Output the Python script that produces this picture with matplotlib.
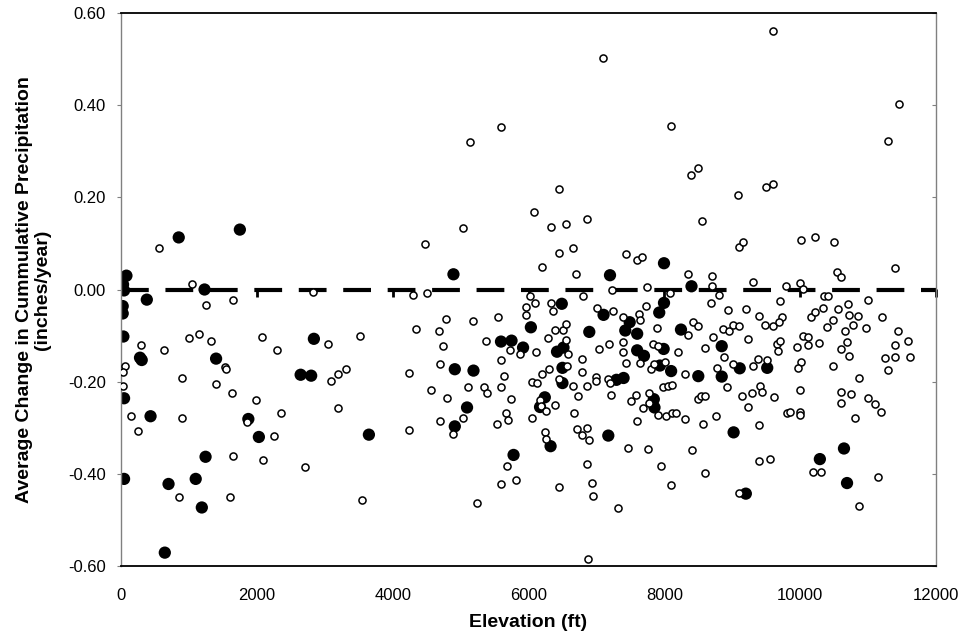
import matplotlib
matplotlib.use("Agg")
import matplotlib.pyplot as plt
from matplotlib.ticker import FuncFormatter

plt.rcParams['font.family'] = ['Liberation Sans', 'DejaVu Sans']
plt.rcParams['axes.unicode_minus'] = False
plt.rcParams['lines.scale_dashes'] = False

# open circles: elevation (ft) and average change (inches/year)
elev_open = [
    555, 1040, 2830, 1250, 1655, 300, 635, 995, 1150, 1320,
    55, 35, 25, 900, 1405, 1535, 1545, 1635, 145, 900,
    250, 2075, 2295, 1990, 2355, 1850, 2250, 1655, 2095, 850,
    1605, 2705, 3045, 3085, 3200, 3310, 3200, 3515, 3545, 4240,
    4245, 4345, 4300, 4510, 4790, 4680, 4745, 4700, 4565, 4795,
    4695, 5040, 4885, 5105, 5235, 5190, 5375, 5345, 5395, 5555,
    5595, 5645, 5595, 5735, 5730, 5875, 6110, 5540, 5675, 5705,
    6045, 5685, 5595, 5810, 6025, 6100, 5960, 5960, 6325, 6355,
    6290, 6395, 6510, 6545, 6550, 6575, 6570, 6195, 6295, 6045,
    6120, 6455, 6650, 6735, 6170, 6190, 6255, 6395, 6675, 6710,
    6785, 6855, 6890, 6240, 6255, 6445, 6855, 6930, 6945, 7315,
    6880, 6800, 6795, 6795, 6855, 6990, 6990, 7035, 7190, 7015,
    7240, 7385, 7395, 7395, 7435, 7170, 7200, 7210, 7470, 7505,
    7580, 7690, 7595, 7755, 7770, 7730, 7625, 7640, 7230, 6195,
    6700, 7090, 5595, 5135, 6445, 6085, 5030, 6335, 6555, 6855,
    4470, 6450, 6655, 7430, 7595, 7665, 7740, 9595, 11455, 11295,
    8095, 8395, 8500, 9080, 9495, 9595, 8550, 9095, 9155, 10015,
    10215, 10495, 11395, 10535, 10605, 8350, 8695, 8695, 9310, 8090,
    8800, 8690, 9795, 9995, 10045, 9700, 10355, 10410, 10995, 10700,
    8935, 9200, 9400, 9735, 10155, 10215, 10335, 10550, 10715, 10855,
    11200, 9480, 9595, 9695, 10485, 10395, 10780, 10655, 10965, 11435,
    11595, 11390, 10695, 10600, 10715, 10035, 10115, 10280, 9960, 9655,
    9700, 9670, 9235, 8715, 8600, 8870, 8955, 9005, 9095, 8875,
    8780, 9015, 9310, 9385, 9505, 10005, 9975, 10490, 11245, 11395,
    11615, 11300, 10870, 8300, 8420, 8500, 8350, 8205, 7895, 7840,
    7910, 7640, 7800, 7850, 8010, 7975, 8050, 8120, 7770, 7905,
    8030, 8110, 8175, 8300, 8575, 8760, 8500, 8545, 8605, 8925,
    9145, 9295, 9405, 9445, 9615, 9230, 9395, 9995, 9800, 9850,
    9995, 10000, 10595, 10595, 10755, 11000, 11100, 11195, 10805, 8400,
    7945, 8100, 8600, 9400, 9550, 10195, 10300, 11150, 10870, 9095, 10115,
]
chg_open = [
    0.089, 0.013, -0.006, -0.033, -0.023, -0.120, -0.131, -0.106, -0.096, -0.111,
    -0.167, -0.179, -0.209, -0.193, -0.204, -0.168, -0.173, -0.225, -0.274, -0.278,
    -0.308, -0.102, -0.131, -0.240, -0.269, -0.288, -0.317, -0.362, -0.370, -0.450,
    -0.450, -0.385, -0.118, -0.198, -0.183, -0.172, -0.258, -0.101, -0.457, -0.182,
    -0.304, -0.086, -0.013, -0.007, -0.064, -0.091, -0.123, -0.162, -0.218, -0.236,
    -0.285, -0.279, -0.313, -0.212, -0.464, -0.068, -0.112, -0.212, -0.225, -0.059,
    -0.153, -0.187, -0.212, -0.238, -0.132, -0.140, -0.136, -0.292, -0.269, -0.283,
    -0.278, -0.383, -0.422, -0.413, -0.015, -0.029, -0.037, -0.055, -0.030, -0.047,
    -0.105, -0.087, -0.088, -0.074, -0.109, -0.139, -0.165, -0.183, -0.172, -0.200,
    -0.203, -0.194, -0.209, -0.232, -0.239, -0.252, -0.263, -0.251, -0.267, -0.302,
    -0.316, -0.300, -0.326, -0.310, -0.325, -0.428, -0.378, -0.420, -0.449, -0.475,
    -0.585, -0.015, -0.150, -0.180, -0.209, -0.190, -0.199, -0.130, -0.118, -0.040,
    -0.046, -0.059, -0.113, -0.136, -0.159, -0.194, -0.202, -0.230, -0.345, -0.243,
    -0.230, -0.257, -0.286, -0.346, -0.225, -0.035, -0.053, -0.066, -0.001, 0.049,
    0.034, 0.502, 0.352, 0.321, 0.218, 0.169, 0.133, 0.135, 0.143, 0.152,
    0.098, 0.080, 0.089, 0.078, 0.065, 0.070, 0.006, 0.560, 0.403, 0.322,
    0.354, 0.248, 0.264, 0.206, 0.222, 0.230, 0.149, 0.092, 0.104, 0.107,
    0.114, 0.104, 0.046, 0.038, 0.028, 0.034, 0.029, 0.007, 0.017, -0.008,
    -0.012, -0.029, 0.008, 0.015, 0.001, -0.024, -0.015, -0.015, -0.022, -0.031,
    -0.044, -0.042, -0.058, -0.060, -0.060, -0.048, -0.041, -0.042, -0.056, -0.058,
    -0.059, -0.076, -0.080, -0.071, -0.067, -0.082, -0.077, -0.091, -0.084, -0.091,
    -0.111, -0.120, -0.113, -0.129, -0.144, -0.100, -0.102, -0.116, -0.125, -0.118,
    -0.112, -0.134, -0.107, -0.104, -0.127, -0.086, -0.090, -0.076, -0.079, -0.147,
    -0.170, -0.162, -0.165, -0.150, -0.152, -0.158, -0.170, -0.166, -0.149, -0.146,
    -0.147, -0.174, -0.192, -0.183, -0.071, -0.079, -0.098, -0.136, -0.084, -0.118,
    -0.122, -0.159, -0.173, -0.162, -0.158, -0.212, -0.209, -0.208, -0.247, -0.273,
    -0.275, -0.269, -0.268, -0.282, -0.291, -0.275, -0.238, -0.232, -0.231, -0.212,
    -0.232, -0.225, -0.209, -0.222, -0.233, -0.256, -0.295, -0.218, -0.268, -0.265,
    -0.265, -0.272, -0.222, -0.246, -0.226, -0.235, -0.248, -0.265, -0.279, -0.348,
    -0.382, -0.425, -0.399, -0.373, -0.368, -0.396, -0.396, -0.406, -0.469, -0.441, -0.120,
]

# filled circles
elev_filled = [
    850, 1750, 80, 30, 45, 380, 1230, 25, 25, 35,
    280, 305, 45, 435, 45, 700, 1100, 1190, 1245, 645,
    1400, 1875, 2030, 2645, 2800, 2840, 4895, 3650, 4915, 5190,
    5095, 4915, 7200, 6490, 7105, 6035, 7425, 6895, 5595, 5750,
    5920, 6420, 6515, 6500, 6500, 7295, 7400, 6240, 6170, 6325,
    7175, 5780, 7490, 7600, 7600, 7700, 7995, 8400, 7995, 7925,
    8245, 7990, 7935, 8100, 8500, 8845, 8845, 9110, 9515, 7845,
    7855, 9020, 9200, 10290, 10645, 10690,
]
chg_filled = [
    0.113, 0.130, 0.030, 0.011, -0.002, -0.022, 0.000, -0.036, -0.052, -0.102,
    -0.148, -0.153, -0.236, -0.275, -0.411, -0.422, -0.411, -0.473, -0.363, -0.571,
    -0.150, -0.281, -0.320, -0.185, -0.187, -0.107, 0.033, -0.315, -0.173, -0.176,
    -0.256, -0.297, 0.031, -0.031, -0.055, -0.082, -0.089, -0.092, -0.113, -0.111,
    -0.126, -0.135, -0.126, -0.170, -0.203, -0.196, -0.192, -0.234, -0.255, -0.340,
    -0.317, -0.359, -0.071, -0.096, -0.132, -0.144, 0.057, 0.007, -0.029, -0.050,
    -0.087, -0.129, -0.165, -0.177, -0.188, -0.123, -0.189, -0.171, -0.170, -0.238,
    -0.256, -0.310, -0.443, -0.368, -0.345, -0.420,
]

x_ticks = [0, 2000, 4000, 6000, 8000, 10000, 12000]
y_ticks = [-0.60, -0.40, -0.20, 0.00, 0.20, 0.40, 0.60]

fig = plt.figure(figsize=(9.64, 6.38), dpi=100)
ax = fig.add_axes([121 / 964, 1 - 566 / 638, 815 / 964, 553 / 638])

# zero reference line (dashed), drawn beneath the points
ax.axhline(0, color='black', lw=3, dashes=(20, 12), zorder=1)

ax.scatter(elev_filled, chg_filled, s=78, color='black', edgecolors='none', zorder=2)
ax.scatter(elev_open, chg_open, s=26, facecolors='white', edgecolors='black',
           linewidths=1.1, zorder=3)

ax.set_xlim(0, 12000)
ax.set_ylim(-0.6, 0.6)
ax.set_xticks(x_ticks)
ax.set_yticks(y_ticks)
ax.yaxis.set_major_formatter(FuncFormatter(lambda v, p: f"{v:.2f}"))

ax.tick_params(axis='x', length=0, pad=16, labelsize=12)
ax.tick_params(axis='y', length=3, direction='out', pad=8, labelsize=12, color='#808080')

for side in ['left', 'right']:
    ax.spines[side].set_color('#808080')
    ax.spines[side].set_linewidth(1.0)
for side in ['top', 'bottom']:
    ax.spines[side].set_color('black')
    ax.spines[side].set_linewidth(1.3)

# tick marks hanging below the zero line
zero_axis = ax.secondary_xaxis(0.5)
zero_axis.set_xticks(x_ticks[1:])
zero_axis.xaxis.set_ticks_position('top')
zero_axis.tick_params(axis='x', length=6, width=2, direction='in', color='black',
                      labeltop=False, labelbottom=False)
for s in zero_axis.spines.values():
    s.set_visible(False)

# small inward ticks on the right edge
right_axis = ax.secondary_yaxis('right')
right_axis.set_yticks(y_ticks)
right_axis.tick_params(length=3, direction='in', labelright=False, color='#808080')
for s in right_axis.spines.values():
    s.set_visible(False)

ax.set_xlabel('Elevation (ft)', fontsize=14, fontweight='bold', labelpad=8)
ax.set_ylabel('Average Change in Cummulative Precipitation\n(inches/year)',
              fontsize=14, fontweight='bold', labelpad=12, linespacing=1.1)

fig.savefig('out.png', dpi=100)
